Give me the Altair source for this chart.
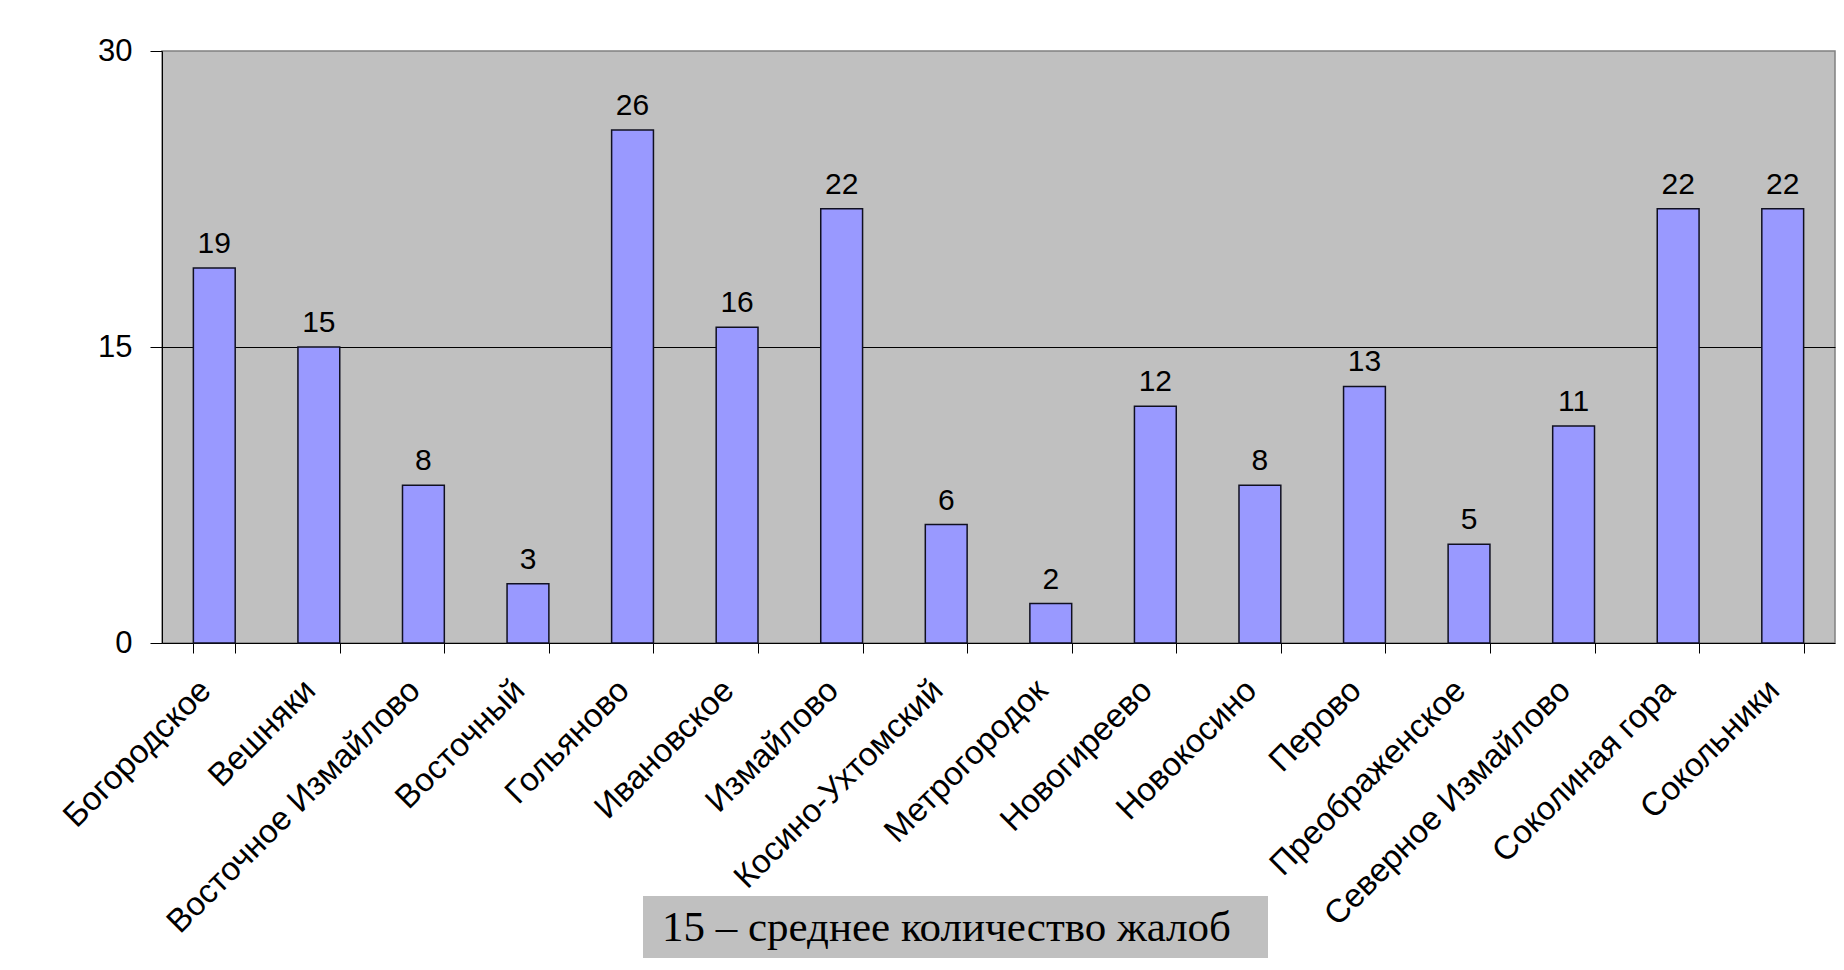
import altair as alt
import pandas as pd

districts = ["Богородское", "Вешняки", "Восточное Измайлово", "Восточный", "Гольяново",
             "Ивановское", "Измайлово", "Косино-Ухтомский", "Метрогородок", "Новогиреево",
             "Новокосино", "Перово", "Преображенское", "Северное Измайлово",
             "Соколиная гора", "Сокольники"]
complaints = [19, 15, 8, 3, 26, 16, 22, 6, 2, 12, 8, 13, 5, 11, 22, 22]
y_ticks = [0, 15, 30]
note = "15 – среднее количество жалоб"

df = pd.DataFrame({"district": districts, "complaints": complaints})

W, H = 1673, 592
SANS = "Liberation Sans"

x_enc = alt.X("district:N", sort=districts, title=None,
              scale=alt.Scale(paddingInner=0.6, paddingOuter=0.3),
              axis=alt.Axis(labelAngle=-45, labelAlign="right", labelBaseline="middle",
                            labelFont=SANS, labelFontSize=33, labelColor="black",
                            labelPadding=32, labelOffset=-9, tickBand="extent",
                            tickSize=10, tickColor="black", domainColor="black",
                            labelOverlap=False, labelLimit=0))
y_enc = alt.Y("complaints:Q", title=None,
              scale=alt.Scale(domain=[0, 30], nice=False),
              axis=alt.Axis(values=y_ticks, labelFont=SANS, labelFontSize=31,
                            labelColor="black", labelPadding=18, tickSize=12,
                            tickColor="black", domainColor="black",
                            grid=True,
                            gridColor={"condition": {"test": "datum.value == 15", "value": "black"},
                                       "value": "transparent"}))

base = alt.Chart(df)
bars = base.mark_bar(color="#9999FF", stroke="#101020", strokeWidth=1.5).encode(x=x_enc, y=y_enc)
labels = base.mark_text(font=SANS, fontSize=30, color="black", baseline="alphabetic", dy=-15).encode(
    x=alt.X("district:N", sort=districts), y="complaints:Q", text="complaints:Q")

note_df = pd.DataFrame({"note": [note]})
box = alt.Chart(note_df).mark_rect(color="#C0C0C0", clip=False).encode(
    x=alt.value(481), x2=alt.value(1106), y=alt.value(845), y2=alt.value(907))
note_text = alt.Chart(note_df).mark_text(font="Liberation Serif", fontSize=43, color="black",
                                         align="left", baseline="middle", clip=False).encode(
    x=alt.value(500), y=alt.value(877), text="note:N")

chart = alt.layer(bars, labels, box, note_text).properties(
    width=W, height=H,
    autosize=alt.AutoSizeParams(type="none"),
    padding={"left": 154, "top": 43, "right": 1, "bottom": 319},
    background="white",
).configure_view(fill="#C0C0C0", stroke="#808080", strokeWidth=1.5)

chart.save("out.html", embed_options={"renderer": "svg", "actions": False})
